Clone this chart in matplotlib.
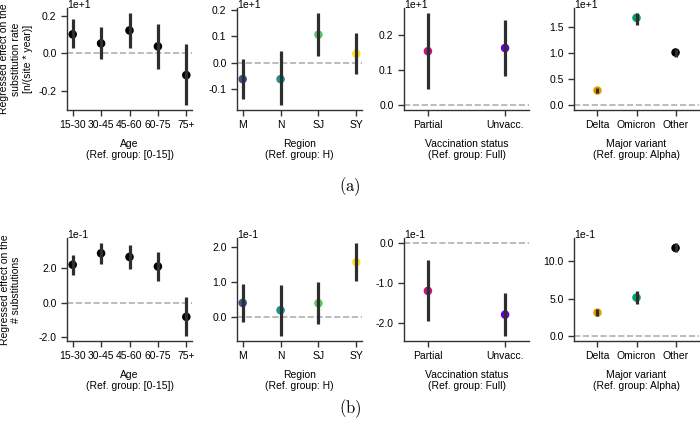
import matplotlib
matplotlib.use('Agg')
import matplotlib.pyplot as plt

plt.rcParams['font.family'] = ['Liberation Sans', 'DejaVu Sans']
plt.rcParams['axes.unicode_minus'] = False
plt.rcParams['mathtext.fontset'] = 'cm'

# categories
age_cats = ['15-30', '30-45', '45-60', '60-75', '75+']
region_cats = ['M', 'N', 'SJ', 'SY']
vacc_cats = ['Partial', 'Unvacc.']
variant_cats = ['Delta', 'Omicron', 'Other']

region_colors = ['#3b528b', '#21918c', '#5ec962', '#fde725']
vacc_colors = ['#c0187a', '#6a00d8']
variant_colors = ['#e69f00', '#009e73', '#000000']
age_colors = ['#000000'] * 5

# (a) effect on substitution rate, in units of 1e+1
a_age = [0.103, 0.054, 0.124, 0.038, -0.117]
a_age_lo = [0.027, -0.032, 0.027, -0.086, -0.28]
a_age_hi = [0.184, 0.14, 0.22, 0.157, 0.049]

a_region = [-0.062, -0.062, 0.106, 0.034]
a_region_lo = [-0.136, -0.161, 0.024, -0.042]
a_region_hi = [0.015, 0.043, 0.189, 0.113]

a_vacc = [0.153, 0.162]
a_vacc_lo = [0.045, 0.083]
a_vacc_hi = [0.262, 0.242]

a_variant = [0.285, 1.68, 1.015]
a_variant_lo = [0.23, 1.55, 0.93]
a_variant_hi = [0.34, 1.78, 1.08]

# (b) effect on the number of substitutions, in units of 1e-1
b_age = [2.18, 2.84, 2.63, 2.08, -0.82]
b_age_lo = [1.59, 2.22, 1.92, 1.24, -1.94]
b_age_hi = [2.74, 3.45, 3.31, 2.92, 0.35]

b_region = [0.40, 0.19, 0.39, 1.57]
b_region_lo = [-0.14, -0.56, -0.21, 1.04]
b_region_hi = [0.94, 0.91, 1.0, 2.13]

b_vacc = [-1.20, -1.79]
b_vacc_lo = [-1.96, -2.33]
b_vacc_hi = [-0.43, -1.25]

b_variant = [3.14, 5.13, 11.7]
b_variant_lo = [2.7, 4.24, 11.1]
b_variant_hi = [3.6, 6.0, 12.4]

xlabels = ['Age\n(Ref. group: [0-15])', 'Region\n(Ref. group: H)',
           'Vaccination status\n(Ref. group: Full)', 'Major variant\n(Ref. group: Alpha)']

FS = 7.5
fig = plt.figure(figsize=(7, 4.26), dpi=100)

W, H = 700, 426
lefts = [67, 237, 404, 574]
width = 125
xlims = [(-0.2, 4.2), (-0.15, 3.15), (-0.31, 1.31), (-0.6, 2.6)]


def draw_panel(ax, cats, vals, lo, hi, colors, xlim, yticks, fmt, offset):
    x = list(range(len(cats)))
    ax.plot(xlim, [0, 0], ls='--', color='#b0b0b0', lw=1.2, zorder=1)
    ax.scatter(x, vals, s=38, c=colors, zorder=2, linewidths=0)
    ax.vlines(x, lo, hi, color='#2e2e2e', lw=2.3, zorder=3)
    ax.set_xlim(*xlim)
    ax.set_xticks(x)
    ax.set_xticklabels(cats)
    ax.set_yticks(yticks)
    ax.set_yticklabels([fmt % t for t in yticks])
    ax.spines['top'].set_visible(False)
    ax.spines['right'].set_visible(False)
    for s in ['left', 'bottom']:
        ax.spines[s].set_color('#333333')
        ax.spines[s].set_linewidth(1.0)
    ax.tick_params(labelsize=FS, length=4, width=1.0, color='#333333')
    ax.text(0.0, 1.0, offset, transform=ax.transAxes, fontsize=FS,
            ha='left', va='baseline')


rows = [
    dict(top=8, bottom=110, offset='1e+1', fmt='%.1f', ylab_x=16,
         data=[(age_cats, a_age, a_age_lo, a_age_hi, age_colors, [-0.2, 0.0, 0.2]),
               (region_cats, a_region, a_region_lo, a_region_hi, region_colors, [-0.1, 0.0, 0.1, 0.2]),
               (vacc_cats, a_vacc, a_vacc_lo, a_vacc_hi, vacc_colors, [0.0, 0.1, 0.2]),
               (variant_cats, a_variant, a_variant_lo, a_variant_hi, variant_colors, [0.0, 0.5, 1.0, 1.5])],
         ylabel='Regressed effect on the\nsubstitution rate\n[n/(site * year)]'),
    dict(top=238, bottom=341, offset='1e-1', fmt='%.1f', ylab_x=10.5,
         data=[(age_cats, b_age, b_age_lo, b_age_hi, age_colors, [-2.0, 0.0, 2.0]),
               (region_cats, b_region, b_region_lo, b_region_hi, region_colors, [0.0, 1.0, 2.0]),
               (vacc_cats, b_vacc, b_vacc_lo, b_vacc_hi, vacc_colors, [-2.0, -1.0, 0.0]),
               (variant_cats, b_variant, b_variant_lo, b_variant_hi, variant_colors, [0.0, 5.0, 10.0])],
         ylabel='Regressed effect on the\n# substitutions'),
]

for row in rows:
    for i, (cats, vals, lo, hi, colors, yticks) in enumerate(row['data']):
        ax = fig.add_axes([lefts[i] / W, 1 - row['bottom'] / H,
                           width / W, (row['bottom'] - row['top']) / H])
        draw_panel(ax, cats, vals, lo, hi, colors, xlims[i], yticks, row['fmt'], row['offset'])
        ax.set_xlabel(xlabels[i], fontsize=FS, labelpad=6)
    yc = (row['top'] + row['bottom']) / 2
    fig.text(row['ylab_x'] / W, 1 - yc / H, row['ylabel'], rotation=90,
             fontsize=FS, ha='center', va='center', multialignment='center')

fig.text(0.5, 1 - 187 / H, r'$\mathrm{(a)}$', fontsize=12, ha='center', va='center')
fig.text(0.5, 1 - 409 / H, r'$\mathrm{(b)}$', fontsize=12, ha='center', va='center')

fig.savefig('out.png', dpi=100)
